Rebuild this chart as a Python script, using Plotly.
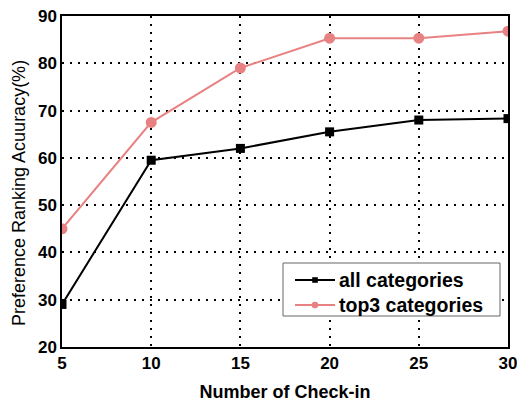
import plotly.graph_objects as go

checkins = [5, 10, 15, 20, 25, 30]
all_categories = [29.0, 59.5, 62.0, 65.5, 68.0, 68.3]
top3_categories = [45.0, 67.5, 79.0, 85.3, 85.3, 86.8]
x_ticks = [5, 10, 15, 20, 25, 30]
y_ticks = [20, 30, 40, 50, 60, 70, 80, 90]
series_names = ["all categories", "top3 categories"]

pink = "#e88282"
colors = ["black", pink]
symbols = ["square", "circle"]

fig = go.Figure()
fig.add_trace(go.Scatter(
    x=checkins, y=all_categories, name=series_names[0], showlegend=False,
    mode="lines+markers",
    line=dict(color=colors[0], width=2),
    marker=dict(symbol=symbols[0], size=9, color=colors[0]),
    cliponaxis=True,
))
fig.add_trace(go.Scatter(
    x=checkins, y=top3_categories, name=series_names[1], showlegend=False,
    mode="lines+markers",
    line=dict(color=colors[1], width=2),
    marker=dict(symbol=symbols[1], size=11, color=colors[1]),
    cliponaxis=True,
))

# plot-area geometry in pixels (used to place the legend box in paper units)
L, T, W, H = 62, 16, 446, 331
def px(x):
    return (x - L) / W
def py(y):
    return (T + H - y) / H

# legend drawn as a boxed key
fig.add_shape(type="rect", xref="paper", yref="paper",
              x0=px(283), x1=px(500), y0=py(316), y1=py(263),
              line=dict(color="#666666", width=1), fillcolor="white", layer="above")
row_y = [280, 305]
for name, col, sym, ry in zip(series_names, colors, symbols, row_y):
    fig.add_shape(type="line", xref="paper", yref="paper",
                  x0=px(295), x1=px(335), y0=py(ry), y1=py(ry),
                  line=dict(color=col, width=2), layer="above")
    r = 2.8 if sym == "square" else 3.3
    fig.add_shape(type="rect" if sym == "square" else "circle", xref="paper", yref="paper",
                  x0=px(315 - r), x1=px(315 + r), y0=py(ry + r), y1=py(ry - r),
                  line=dict(color=col, width=0), fillcolor=col, layer="above")
    fig.add_annotation(xref="paper", yref="paper", x=px(337), y=py(ry),
                       xanchor="left", yanchor="middle", showarrow=False,
                       text="<b>" + name + "</b>",
                       font=dict(family="Liberation Sans", size=19.5, color="black"))

# y-axis title
fig.add_annotation(xref="paper", yref="paper", x=px(19), y=py(193),
                   xanchor="center", yanchor="middle", showarrow=False, textangle=-90,
                   text="Preference Ranking Acuuracy(%)",
                   font=dict(family="Liberation Sans", size=18, color="black"))

axis_common = dict(
    showline=True, linecolor="black", linewidth=1.5, mirror=True,
    showgrid=True, gridcolor="black", gridwidth=2, griddash="2px,6px",
    zeroline=False, ticks="", automargin=False, ticklabeloverflow="allow",
    tickfont=dict(family="Liberation Sans", size=17, color="black", weight="bold"),
)
fig.update_xaxes(
    range=[5, 30], tickvals=x_ticks,
    title=dict(text="<b>Number of Check-in</b>", font=dict(family="Liberation Sans", size=18, color="black"), standoff=20),
    **axis_common,
)
fig.update_yaxes(
    range=[20, 90], tickvals=y_ticks,
    **axis_common,
)
fig.update_layout(
    width=517, height=402,
    margin=dict(l=L, r=517 - L - W, t=T, b=402 - T - H),
    plot_bgcolor="white", paper_bgcolor="white",
    showlegend=False,
)
fig.write_html("out.html", config={"displayModeBar": False},
               post_script="document.body.style.margin='0';document.body.style.overflow='hidden';")
